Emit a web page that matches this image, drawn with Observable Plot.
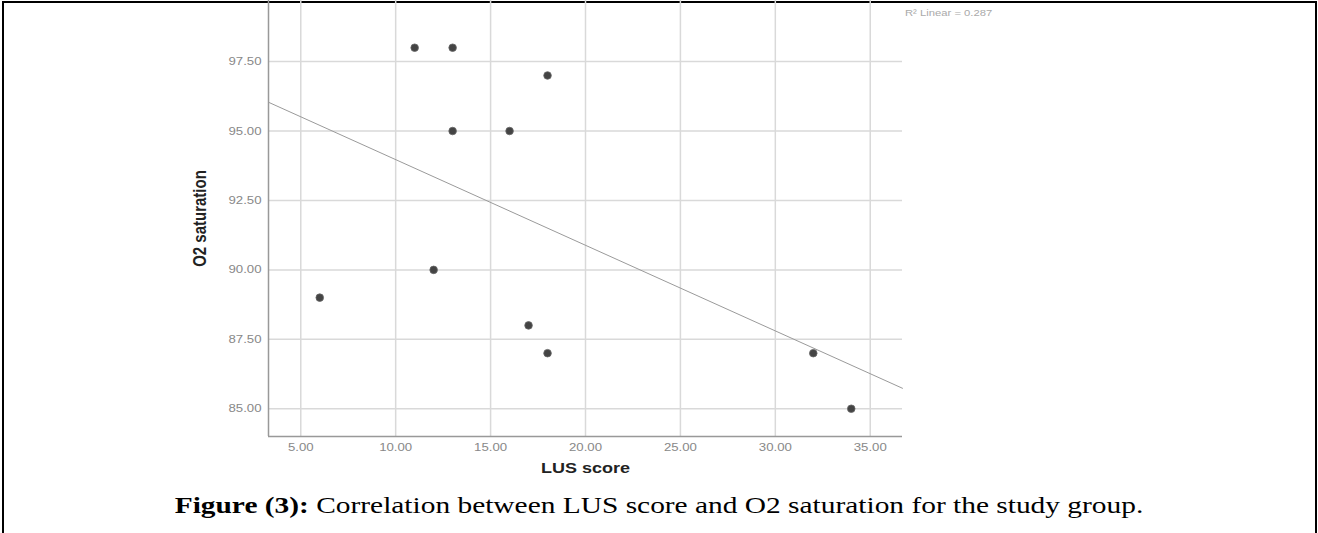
<!DOCTYPE html>
<html>
<head>
<meta charset="utf-8">
<script src="https://cdn.jsdelivr.net/npm/d3@7"></script>
<script src="https://cdn.jsdelivr.net/npm/@observablehq/plot@0.6"></script>
<style>
  html, body { margin: 0; padding: 0; background: #fff; }
  #page { position: relative; width: 1318px; height: 533px; overflow: hidden; }
  #frame { position: absolute; left: 2px; top: 1px; width: 1311px; height: 540px;
           border-left: 2px solid #000; border-right: 2px solid #000; border-top: 2px solid #000; }
  #chart { position: absolute; left: 0; top: 0; }
  #r2 { position: absolute; left: 905px; top: 8px; font: 9px "Liberation Sans", Arial, sans-serif; color: #aaa;
        transform: scaleX(1.25); transform-origin: left top; white-space: nowrap; }
  #caption { position: absolute; left: 0; width: 1318px; top: 492px; text-align: center;
             font: 24px "Liberation Serif", "Times New Roman", serif; color: #000; white-space: nowrap;
             transform: scaleX(1.225); transform-origin: 659px 0; }
</style>
</head>
<body>
<div id="page">
  <div id="frame"></div>
  <div id="chart"></div>
  <div id="r2"></div>
  <div id="caption"><b>Figure (3):</b> Correlation between LUS score and O2 saturation for the study group.</div>
</div>
<script>
// Data
const lusScore = [11, 13, 18, 13, 16, 12, 6, 17, 18, 32, 34];
const o2Saturation = [98, 98, 97, 95, 95, 90, 89, 88, 87, 87, 85];
const xTicks = [5, 10, 15, 20, 25, 30, 35];
const yTicks = [85, 87.5, 90, 92.5, 95, 97.5];
const xDomain = [3.3, 36.7];
const yDomain = [84, 99.7];
const xLabel = "LUS score";
const yLabel = "O2 saturation";

const data = lusScore.map((x, i) => ({x, y: o2Saturation[i]}));

// least-squares fit
const mx = d3.mean(lusScore), my = d3.mean(o2Saturation);
const sxy = d3.sum(data, d => (d.x - mx) * (d.y - my));
const sxx = d3.sum(data, d => (d.x - mx) ** 2);
const syy = d3.sum(data, d => (d.y - my) ** 2);
const slope = sxy / sxx;
const intercept = my - slope * mx;
const r2 = (sxy * sxy) / (sxx * syy);
document.getElementById("r2").textContent = "R\u00b2 Linear = " + r2.toFixed(3);

const fmt = d3.format(".2f");
const gridColor = "#d9d9d9";

const chart = Plot.plot({
  width: 1318,
  height: 482,
  marginLeft: 268,
  marginRight: 416,
  marginTop: 0,
  marginBottom: 46,
  style: {fontFamily: "'Liberation Sans', Arial, sans-serif", background: "transparent"},
  x: {domain: xDomain},
  y: {domain: yDomain},
  marks: [
    Plot.gridX(xTicks, {stroke: gridColor, strokeOpacity: 1, strokeWidth: 1.5}),
    Plot.gridY(yTicks, {stroke: gridColor, strokeOpacity: 1, strokeWidth: 1.5}),
    Plot.ruleX([xDomain[0]], {stroke: "#999", strokeWidth: 1.5}),
    Plot.ruleY([yDomain[0]], {stroke: "#999", strokeWidth: 1.5}),
    Plot.line(xDomain.map(x => ({x, y: intercept + slope * x})), {x: "x", y: "y", stroke: "#9a9a9a", strokeWidth: 1}),
    Plot.dot(data, {x: "x", y: "y", r: 3.8, fill: "#444", stroke: "#666", strokeWidth: 0.8}),
    Plot.axisX(xTicks, {tickSize: 0, tickPadding: 7, tickFormat: fmt, fontSize: 11, fill: "#888", label: null}),
    Plot.axisY(yTicks, {tickSize: 0, tickPadding: 7, tickFormat: fmt, fontSize: 11, fill: "#888", label: null}),
    Plot.text([xLabel], {frameAnchor: "bottom", dy: 36, fontWeight: "bold", fontSize: 15, fill: "#222"}),
    Plot.text([yLabel], {frameAnchor: "left", dx: -68, rotate: -90, textAnchor: "middle", fontWeight: "bold", fontSize: 15, fill: "#222"})
  ]
});
// widen the axis labels and tick labels slightly, as in the reference
const axisTicks = new Set([...xTicks, ...yTicks].map(fmt));
d3.select(chart).selectAll("text").each(function() {
  const t = this.textContent;
  if (t === xLabel || t === yLabel || axisTicks.has(t)) {
    const tr = this.getAttribute("transform") || "";
    const m = tr.match(/^(translate\([^)]*\))(.*)$/);
    if (m) this.setAttribute("transform", m[1] + " scale(1.2,1)" + m[2]);
  }
});
document.getElementById("chart").appendChild(chart);
</script>
</body>
</html>
